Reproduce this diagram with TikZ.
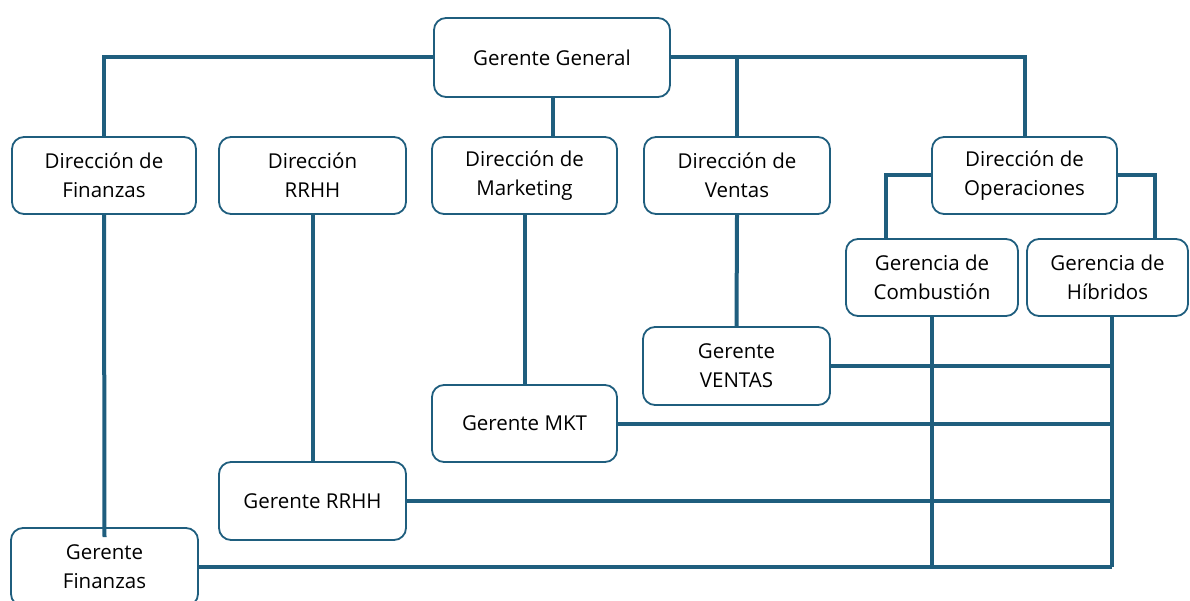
\documentclass[tikz,border=0pt]{standalone}
\usepackage{fontspec}
\setmainfont{Open Sans}
\usetikzlibrary{calc}
\definecolor{lc}{HTML}{1F5E7E}
\tikzset{
  box/.style={draw=lc, line width=1.8pt, rounded corners=12pt, fill=white, align=center,
    inner sep=0pt, text=black, font=\fontsize{20.5}{29}\selectfont},
  conn/.style={draw=lc, line width=4pt}
}
\begin{document}
\begin{tikzpicture}[x=1pt,y=-1pt]
\useasboundingbox (0,0) rectangle (1190,601);
\clip (0,0) rectangle (1190,601);
\fill[white] (0,0) rectangle (1190,601);
\node[box, minimum width=236pt, minimum height=79pt] (gg) at (552,57.5) {Gerente General};
\node[box, minimum width=184pt, minimum height=77pt] (df) at (104,175.5) {Dirección de\\Finanzas};
\node[box, minimum width=187pt, minimum height=77pt] (dr) at (312.5,175.5) {Dirección\\RRHH};
\node[box, minimum width=185pt, minimum height=77pt] (dm) at (524.5,175.5) {Dirección de\\Marketing};
\node[box, minimum width=186pt, minimum height=77pt] (dv) at (737,175.5) {Dirección de\\Ventas};
\node[box, minimum width=185pt, minimum height=77pt] (dop) at (1024.5,175.5) {Dirección de\\Operaciones};
\node[box, minimum width=172pt, minimum height=77pt] (gc) at (932,277.5) {Gerencia de\\Combustión};
\node[box, minimum width=161pt, minimum height=77pt] (gh) at (1107.5,277.5) {Gerencia de\\Híbridos};
\node[box, minimum width=187pt, minimum height=78pt] (gv) at (736.5,366) {Gerente\\VENTAS};
\node[box, minimum width=185pt, minimum height=77pt] (gm) at (524.5,423.5) {Gerente MKT};
\node[box, minimum width=187pt, minimum height=78pt] (gr) at (312.5,501) {Gerente RRHH};
\node[box, minimum width=187pt, minimum height=78pt] (gf) at (104.5,567) {Gerente\\Finanzas};
% helper coordinates
\coordinate (cx) at (gc.south);
\coordinate (hx) at ($(gh.south)+(4.5,0)$);
\coordinate (cb) at (cx |- gf.east);
\coordinate (hb) at (hx |- gf.east);
\coordinate (gcn) at ($(gc.north)+(-46,0)$);
\coordinate (ghn) at ($(gh.north)+(47.5,0)$);
\coordinate (gfin) at ($(gf.north)+(0,10)$);
% connectors
\draw[conn] (gg.west) -| (df.north);
\draw[conn] (gg.east) -| (dop.north);
\draw[conn] (dv.north |- gg.east) -- (dv.north);
\draw[conn] (gg.south -| dm.north) ++(28,0) -- ++(0,40);
\draw[conn] (dop.west) -| (gcn);
\draw[conn] (dop.east) -| (ghn);
\draw[conn] (df.south) -- (gfin);
\draw[conn] (dr.south) -- (gr.north);
\draw[conn] (dm.south) -- (gm.north);
\draw[conn] (dv.south) -- (gv.north);
\draw[conn] (cx) -- (cb);
\draw[conn] (hx) -- (hb);
\draw[conn] (gv.east) -- (gv.east -| hx);
\draw[conn] (gm.east) -- (gm.east -| hx);
\draw[conn] (gr.east) -- (gr.east -| hx);
\draw[conn] (gf.east) -- (hb);
\end{tikzpicture}
\end{document}
